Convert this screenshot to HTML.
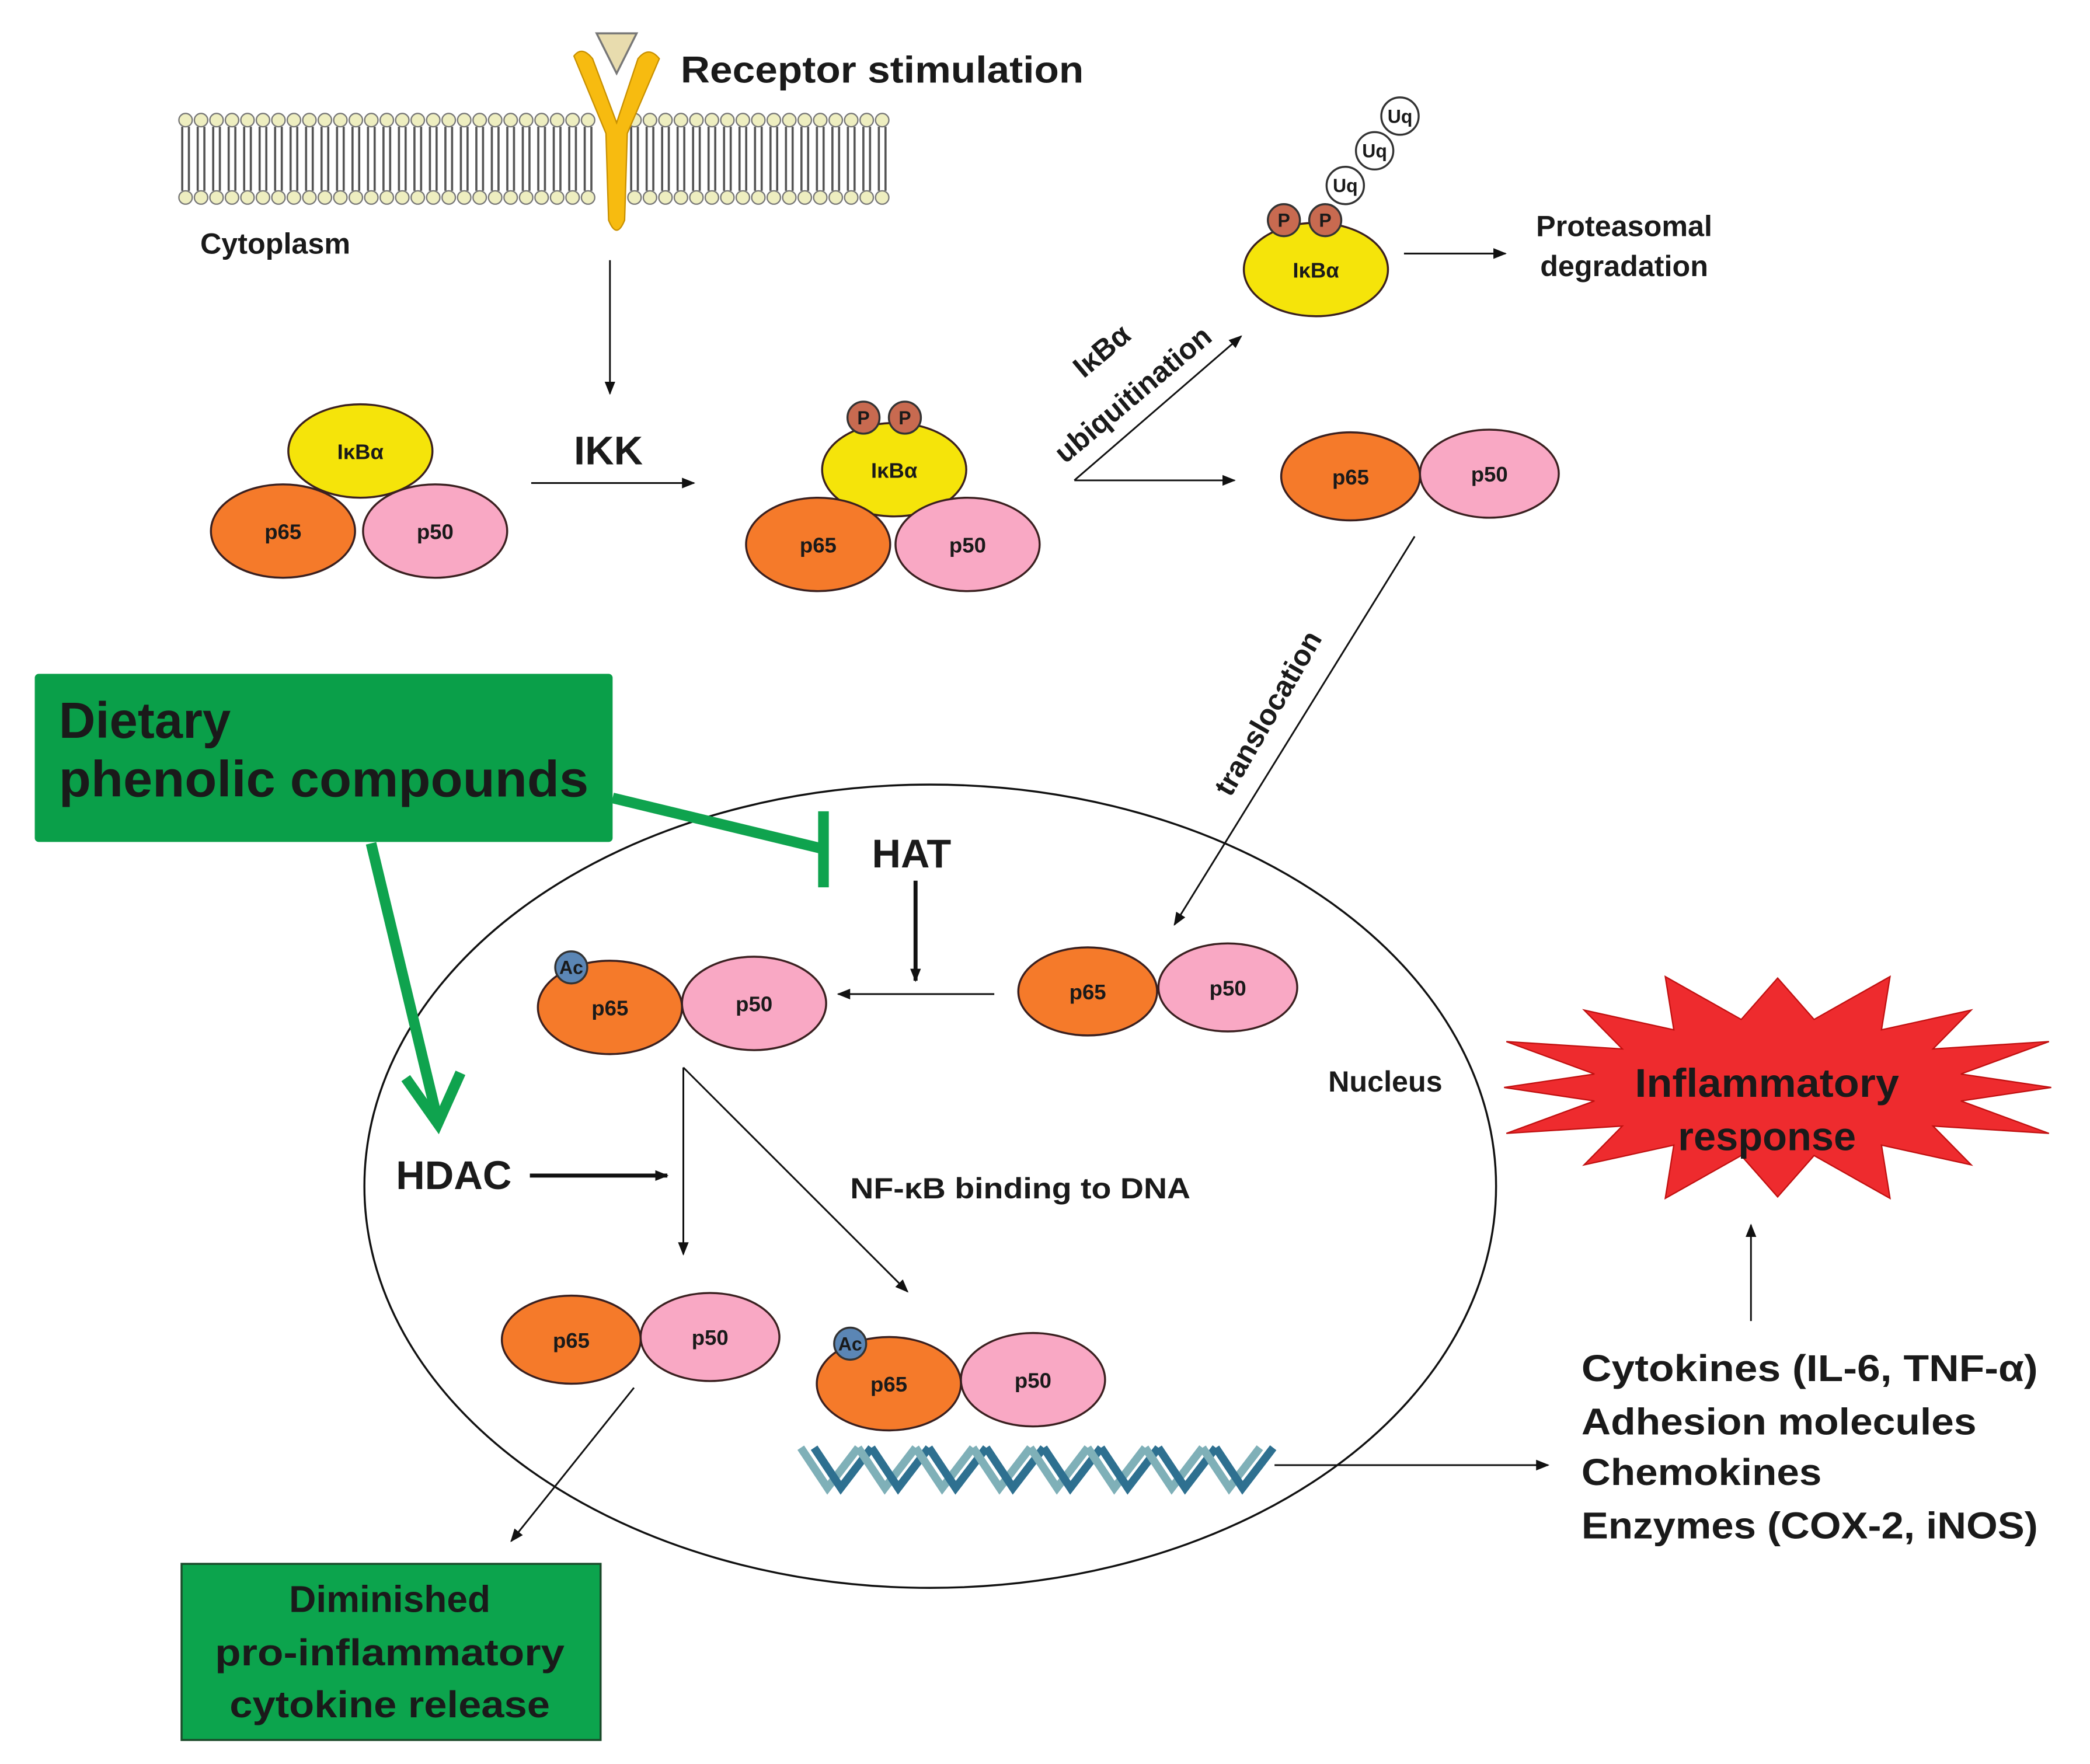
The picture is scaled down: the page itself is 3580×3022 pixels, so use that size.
<!DOCTYPE html>
<html><head><meta charset="utf-8"><style>
html,body{margin:0;padding:0;background:#fff}
svg{display:block}
text{font-family:"Liberation Sans","DejaVu Sans",sans-serif;font-weight:bold;fill:#1a1a1a}
</style></head><body>
<svg id="s" width="3580" height="3022" viewBox="0 0 1566 1322" xmlns="http://www.w3.org/2000/svg">
<defs>
<marker id="a" markerWidth="10" markerHeight="10" refX="9" refY="5" orient="auto" markerUnits="userSpaceOnUse"><path d="M0,1 L10,5 L0,9 z" fill="#111"/></marker>
</defs>
<rect width="1566" height="1322" fill="#fff"/>
<g id="mem"></g>
<polygon points="447,25 477,25 462,55" fill="#e8dcae" stroke="#777" stroke-width="1.5"/>
<path d="M430,42 Q436,34 444,44 L462,92 L478,44 Q486,34 494,44 L470,100 L468,165 Q462,180 456,165 L454,100 Z" fill="#f7bb10" stroke="#c89000" stroke-width="1"/>
<text x="510" y="62" font-size="28" textLength="302" lengthAdjust="spacingAndGlyphs">Receptor stimulation</text>
<text x="150" y="190" font-size="22">Cytoplasm</text>
<g stroke="#111" stroke-width="1.3" fill="none" marker-end="url(#a)">
<line x1="457" y1="195" x2="457" y2="295"/>
<line x1="398" y1="362" x2="520" y2="362"/>
<line x1="805" y1="360" x2="930" y2="252"/>
<line x1="805" y1="360" x2="925" y2="360"/>
<line x1="1052" y1="190" x2="1128" y2="190"/>
<line x1="1060" y1="402" x2="880" y2="693"/>
<line x1="745" y1="745" x2="628" y2="745"/>
<line x1="512" y1="800" x2="512" y2="940"/>
<line x1="512" y1="800" x2="680" y2="968"/>
<line x1="955" y1="1098" x2="1160" y2="1098"/>
<line x1="475" y1="1040" x2="383" y2="1155"/>
<line x1="1312" y1="990" x2="1312" y2="918"/>
</g>
<g stroke="#111" stroke-width="3" marker-end="url(#a)">
<line x1="686" y1="660" x2="686" y2="735"/>
<line x1="397" y1="881" x2="500" y2="881"/>
</g>
<text x="430" y="348" font-size="30">IKK</text>
<text transform="translate(812,284) rotate(-40)" font-size="22">IκBα</text>
<text transform="translate(798,348) rotate(-40)" font-size="22">ubiquitination</text>
<text x="1217" y="177" font-size="22" text-anchor="middle">Proteasomal</text>
<text x="1217" y="207" font-size="22" text-anchor="middle">degradation</text>
<text transform="translate(922,598) rotate(-60)" font-size="22">translocation</text>
<ellipse cx="697" cy="889" rx="424" ry="301" fill="none" stroke="#111" stroke-width="1.5"/>
<text x="1038" y="818" font-size="22" text-anchor="middle">Nucleus</text>
<text x="683" y="650" font-size="30" text-anchor="middle">HAT</text>
<text x="340" y="891" font-size="30" text-anchor="middle">HDAC</text>
<text x="637" y="898" font-size="22" textLength="255" lengthAdjust="spacingAndGlyphs">NF-κB  binding to DNA</text>
<g id="prot"></g>
<g id="dna"></g>
<rect x="26" y="505" width="433" height="126" rx="3" fill="#0a9f49"/>
<text x="44" y="553" font-size="38" fill="#111">Dietary</text>
<text x="44" y="597" font-size="38" fill="#111" textLength="397" lengthAdjust="spacingAndGlyphs">phenolic compounds</text>
<line x1="459" y1="598" x2="616" y2="636" stroke="#0fa34e" stroke-width="8"/>
<line x1="617" y1="608" x2="617" y2="665" stroke="#0fa34e" stroke-width="8"/>
<line x1="278" y1="632" x2="328" y2="840" stroke="#0fa34e" stroke-width="8"/>
<polyline points="304,808 328,842 345,804" fill="none" stroke="#0fa34e" stroke-width="8"/>
<rect x="136" y="1172" width="314" height="132" fill="#0ca44d" stroke="#1a4a2a" stroke-width="1.5"/>
<text x="292" y="1208" font-size="28" text-anchor="middle" fill="#1a3a1a">Diminished</text>
<text x="292" y="1248" font-size="28" text-anchor="middle" fill="#1a3a1a" textLength="262" lengthAdjust="spacingAndGlyphs">pro-inflammatory</text>
<text x="292" y="1287" font-size="28" text-anchor="middle" fill="#1a3a1a" textLength="240" lengthAdjust="spacingAndGlyphs">cytokine release</text>
<polygon id="star" fill="#ee2b2e" stroke="#c01010" stroke-width="1"/>
<text x="1324" y="822" font-size="30" text-anchor="middle" fill="#3a0c0c" textLength="198" lengthAdjust="spacingAndGlyphs">Inflammatory</text>
<text x="1324" y="862" font-size="30" text-anchor="middle" fill="#3a0c0c">response</text>
<text x="1185" y="1035" font-size="28" textLength="342" lengthAdjust="spacingAndGlyphs">Cytokines (IL-6, TNF-α)</text>
<text x="1185" y="1075" font-size="28" textLength="296" lengthAdjust="spacingAndGlyphs">Adhesion molecules</text>
<text x="1185" y="1113" font-size="28" textLength="180" lengthAdjust="spacingAndGlyphs">Chemokines</text>
<text x="1185" y="1153" font-size="28" textLength="342" lengthAdjust="spacingAndGlyphs">Enzymes (COX-2, iNOS)</text>
</svg>
<script>
var NS="http://www.w3.org/2000/svg";
function el(p,t,a,txt){var e=document.createElementNS(NS,t);for(var k in a)e.setAttribute(k,a[k]);if(txt)e.textContent=txt;document.getElementById(p).appendChild(e);return e;}
for(var x=139;x<=668;x+=11.6){
 if(Math.abs(x-460)<14)continue;
 el("mem","path",{d:"M"+(x-2.5)+",95 L"+(x-2.5)+",143 M"+(x+2.5)+",95 L"+(x+2.5)+",143",stroke:"#555","stroke-width":"1.6",fill:"none"});
 el("mem","circle",{cx:x,cy:90,r:5,fill:"#eeeec0",stroke:"#777","stroke-width":"1"});
 el("mem","circle",{cx:x,cy:148,r:5,fill:"#eeeec0",stroke:"#777","stroke-width":"1"});
}
function E(cx,cy,fill,lab,rx,ry){el("prot","ellipse",{cx:cx,cy:cy,rx:rx||54,ry:ry||35,fill:fill,stroke:"#3a2020","stroke-width":"1.5"});el("prot","text",{x:cx,y:cy+6,"font-size":"16","text-anchor":"middle",fill:"#2a1010"},lab);}
function C(cx,cy,fill,lab,r){el("prot","circle",{cx:cx,cy:cy,r:r||12,fill:fill,stroke:"#333","stroke-width":"1.5"});el("prot","text",{x:cx,y:cy+5,"font-size":"14","text-anchor":"middle",fill:"#222"},lab);}
var O="#f57a2a",P="#f9a8c4",Y="#f5e40a",B="#5b86b5",BR="#c86a50";
E(270,338,Y,"IκBα");E(212,398,O,"p65");E(326,398,P,"p50");
E(670,352,Y,"IκBα");C(647,313,BR,"P");C(678,313,BR,"P");E(613,408,O,"p65");E(725,408,P,"p50");
E(986,202,Y,"IκBα");C(962,165,BR,"P");C(993,165,BR,"P");C(1008,139,"#fff","Uq",14);C(1030,113,"#fff","Uq",14);C(1049,87,"#fff","Uq",14);
E(1012,357,O,"p65",52,33);E(1116,355,P,"p50",52,33);
E(457,755,O,"p65");E(565,752,P,"p50");C(428,725,B,"Ac");
E(815,743,O,"p65",52,33);E(920,740,P,"p50",52,33);
E(428,1004,O,"p65",52,33);E(532,1002,P,"p50",52,33);
E(666,1037,O,"p65");E(774,1034,P,"p50");C(637,1007,B,"Ac");
for(var i=0;i<8;i++){var x0=600+i*43;
 el("dna","path",{d:"M"+x0+",1085 L"+(x0+20)+",1115 L"+(x0+43)+",1085",stroke:"#7fb0b8","stroke-width":"6",fill:"none"});
 el("dna","path",{d:"M"+(x0+10)+",1085 L"+(x0+30)+",1115 L"+(x0+53)+",1085",stroke:"#2e7090","stroke-width":"6",fill:"none"});}
var pts=[],n=16;for(var k=0;k<2*n;k++){var a=Math.PI*k/n,o=k%2==0;var rx=o?220:140,ry=o?90:52;if(o&&k%4==0){rx=205;ry=82;}pts.push((1332+rx*Math.cos(a)).toFixed(1)+","+(815+ry*Math.sin(a)).toFixed(1));}
document.getElementById("star").setAttribute("points",pts.join(" "));
</script>
</body></html>
